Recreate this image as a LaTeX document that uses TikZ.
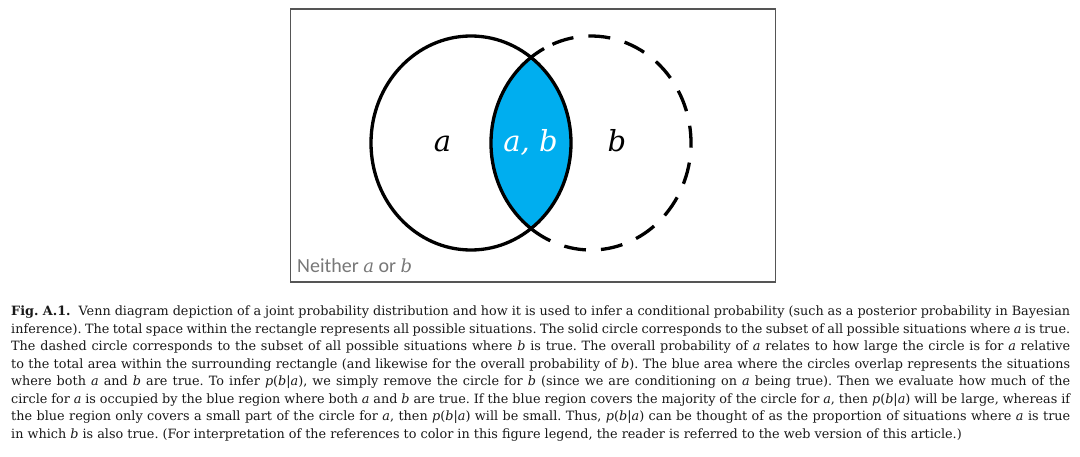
\documentclass[tikz,border=0pt]{standalone}
\usepackage{fontspec}
\setmainfont{DejaVu Serif}
\newfontfamily\calib{Carlito}
\usetikzlibrary{calc}
\definecolor{vennblue}{RGB}{0,174,239}
\definecolor{framegray}{RGB}{85,85,85}
\definecolor{labelgray}{RGB}{120,120,120}
\definecolor{captext}{RGB}{25,25,25}
\newcommand{\ci}[1]{\textit{#1}}
\newcommand{\pba}{\textit{p}(\textit{b}|\textit{a})}
\frenchspacing
\tikzset{
  vennline/.style={line width=3.3pt, black},
  vlabel/.style={anchor=base, inner sep=0pt, font=\itshape\fontsize{29}{34}\selectfont},
  capline/.style={anchor=base west, inner sep=0pt, text=captext, font=\fontsize{12.8}{15}\selectfont},
}
\begin{document}
\begin{tikzpicture}[x=1pt,y=1pt]
\useasboundingbox (0,0) rectangle (1080,456);
\fill[white] (0,0) rectangle (1080,456);
% frame
\draw[framegray, line width=1.6pt] (290.5,174) rectangle (775.5,446.7);
\coordinate (ca) at (471,313);
\coordinate (cb) at (591,313);
% blue lens
\fill[vennblue] ($(ca)+(53.13:100 and 107)$) arc[start angle=53.13, end angle=-53.13, x radius=100, y radius=107]
  arc[start angle=233.13, end angle=126.87, x radius=100, y radius=107] -- cycle;
% solid circle a
\draw[vennline] (ca) ellipse[x radius=100, y radius=107];
% solid part of b
\draw[vennline] ($(cb)+(118:100 and 107)$) arc[start angle=118, end angle=246, x radius=100, y radius=107];
% dashed part of b
\draw[vennline, dash pattern=on 22pt off 15pt, dash phase=22pt] ($(cb)+(-114:100 and 107)$) arc[start angle=-114, end angle=118, x radius=100, y radius=107];
% labels
\node[vlabel] (la) at (442.5,304) {a};
\node[vlabel, text=white] (lab) at (530.5,304) {a, b};
\node[vlabel] (lb) at (617,304) {b};
\node[anchor=base west, inner sep=0pt, text=labelgray, font=\calib\fontsize{20}{24}\selectfont] (neither) at (297,183) {Neither {\rmfamily\itshape\fontsize{18}{24}\selectfont a} or {\rmfamily\itshape\fontsize{18}{24}\selectfont b}};
% caption
\node[capline] (c1) at (11,140.3) {\makebox[1059pt][s]{\textbf{Fig. A.1.}\ \ Venn diagram depiction of a joint probability distribution and how it is used to infer a conditional probability (such as a posterior probability in Bayesian}};
\node[capline] (c2) at (11,122.8) {\makebox[1059pt][s]{inference). The total space within the rectangle represents all possible situations. The solid circle corresponds to the subset of all possible situations where \ci{a} is true.}};
\node[capline] (c3) at (11,105.4) {\makebox[1059pt][s]{The dashed circle corresponds to the subset of all possible situations where \ci{b} is true. The overall probability of \ci{a} relates to how large the circle is for \ci{a} relative}};
\node[capline] (c4) at (11,87.9) {\makebox[1059pt][s]{to the total area within the surrounding rectangle (and likewise for the overall probability of \ci{b}). The blue area where the circles overlap represents the situations}};
\node[capline] (c5) at (11,70.4) {\makebox[1059pt][s]{where both \ci{a} and \ci{b} are true. To infer \pba, we simply remove the circle for \ci{b} (since we are conditioning on \ci{a} being true). Then we evaluate how much of the}};
\node[capline] (c6) at (11,53.0) {\makebox[1059pt][s]{circle for \ci{a} is occupied by the blue region where both \ci{a} and \ci{b} are true. If the blue region covers the majority of the circle for \ci{a}, then \pba\ will be large, whereas if}};
\node[capline] (c7) at (11,35.5) {\makebox[1059pt][s]{the blue region only covers a small part of the circle for \ci{a}, then \pba\ will be small. Thus, \pba\ can be thought of as the proportion of situations where \ci{a} is true}};
\node[capline] (c8) at (11,18.0) {in which \ci{b} is also true. (For interpretation of the references to color in this figure legend, the reader is referred to the web version of this article.)};
\end{tikzpicture}
\end{document}
